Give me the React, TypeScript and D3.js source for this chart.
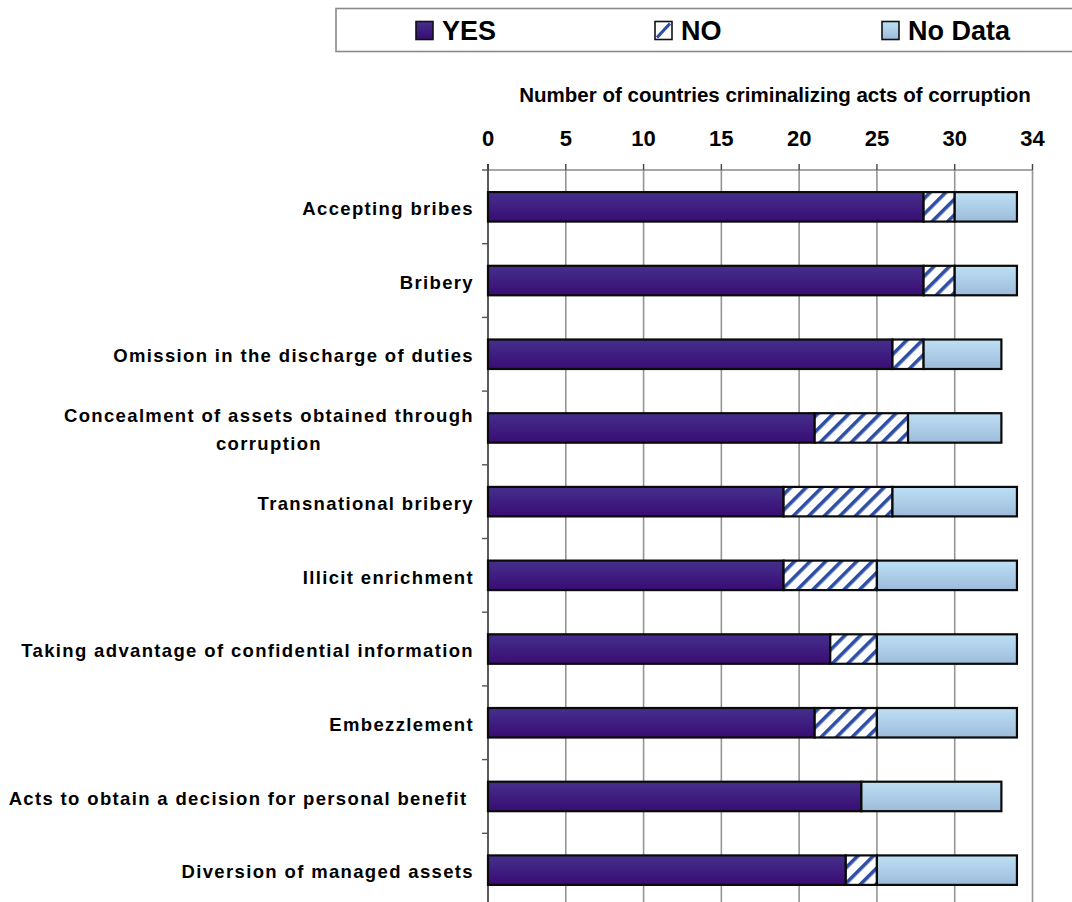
import React, { useEffect, useRef } from "react";
import * as d3 from "d3";

// Acts of corruption, one row each (a "\n" breaks a label onto two lines)
const categories: string[] = [
  "Accepting bribes",
  "Bribery",
  "Omission in the discharge of duties",
  "Concealment of assets obtained through\ncorruption",
  "Transnational bribery",
  "Illicit enrichment",
  "Taking advantage of confidential information",
  "Embezzlement",
  "Acts to obtain a decision for personal benefit ",
  "Diversion of managed assets",
];

// Number of countries per answer
const yesValues: number[] = [28, 28, 26, 21, 19, 19, 22, 21, 24, 23];
const noValues: number[] = [2, 2, 2, 6, 7, 6, 3, 4, 0, 2];
const noDataValues: number[] = [4, 4, 5, 6, 8, 9, 9, 9, 9, 9];

const seriesNames: string[] = ["YES", "NO", "No Data"];

// Axis ticks and the labels printed above them
const tickValues: number[] = [0, 5, 10, 15, 20, 25, 30, 35];
const tickLabels: string[] = ["0", "5", "10", "15", "20", "25", "30", "34"];

const axisTitle = "Number of countries criminalizing acts of corruption";

const FONT = "'Liberation Sans', Arial, Helvetica, sans-serif";

export default function App() {
  const ref = useRef<SVGSVGElement | null>(null);

  useEffect(() => {
    document.body.style.margin = "0";
    const svg = d3.select(ref.current);
    svg.selectAll("*").remove();

    const W = 1072;
    const H = 902;
    const left = 488;
    const right = 1032.5;
    const top = 170;
    const bottom = 907;

    const x = d3.scaleLinear().domain([0, 35]).range([left, right]);
    const y = d3
      .scaleBand<number>()
      .domain(d3.range(categories.length))
      .range([top, bottom])
      .paddingInner(0.6)
      .paddingOuter(0.3);

    svg.attr("width", W).attr("height", H);

    const defs = svg.append("defs");
    const gYes = defs
      .append("linearGradient")
      .attr("id", "gradYes")
      .attr("x1", 0)
      .attr("y1", 0)
      .attr("x2", 0)
      .attr("y2", 1);
    gYes.append("stop").attr("offset", "0%").attr("stop-color", "#45308c");
    gYes.append("stop").attr("offset", "100%").attr("stop-color", "#390c74");

    const gNd = defs
      .append("linearGradient")
      .attr("id", "gradNd")
      .attr("x1", 0)
      .attr("y1", 0)
      .attr("x2", 0)
      .attr("y2", 1);
    gNd.append("stop").attr("offset", "0%").attr("stop-color", "#bde0f5");
    gNd.append("stop").attr("offset", "100%").attr("stop-color", "#9dbbda");

    const hatch = defs
      .append("pattern")
      .attr("id", "hatchNo")
      .attr("patternUnits", "userSpaceOnUse")
      .attr("width", 11)
      .attr("height", 11)
      .attr("patternTransform", "rotate(45)");
    hatch.append("rect").attr("width", 11).attr("height", 11).attr("fill", "#ffffff");
    hatch.append("rect").attr("x", 0).attr("width", 3.6).attr("height", 11).attr("fill", "#2e4ea6");

    svg.append("rect").attr("width", W).attr("height", H).attr("fill", "#ffffff");

    // Legend box
    const legend = svg.append("g");
    legend
      .append("rect")
      .attr("x", 336)
      .attr("y", 8.5)
      .attr("width", 800)
      .attr("height", 43)
      .attr("fill", "#ffffff")
      .attr("stroke", "#8a8a8a")
      .attr("stroke-width", 1.6);
    const legendX = [416, 655, 882];
    const fills = ["url(#gradYes)", "#ffffff", "url(#gradNd)"];
    seriesNames.forEach((name, i) => {
      const gx = legendX[i];
      legend
        .append("rect")
        .attr("x", gx)
        .attr("y", 21.5)
        .attr("width", 17)
        .attr("height", 18)
        .attr("fill", fills[i])
        .attr("stroke", "#111")
        .attr("stroke-width", 1.6);
      if (i === 1) {
        legend
          .append("line")
          .attr("x1", gx + 2)
          .attr("y1", 37.5)
          .attr("x2", gx + 15)
          .attr("y2", 23.5)
          .attr("stroke", "#2e4ea6")
          .attr("stroke-width", 3.2);
      }
      legend
        .append("text")
        .attr("x", gx + 26)
        .attr("y", 40)
        .attr("font-family", FONT)
        .attr("font-weight", "bold")
        .attr("font-size", 27)
        .attr("fill", "#000")
        .text(name);
    });

    // Axis title and tick labels
    svg
      .append("text")
      .attr("x", 775)
      .attr("y", 102)
      .attr("text-anchor", "middle")
      .attr("font-family", FONT)
      .attr("font-weight", "bold")
      .attr("font-size", 20.5)
      .attr("fill", "#000")
      .text(axisTitle);

    svg
      .append("g")
      .selectAll("text")
      .data(tickValues)
      .join("text")
      .attr("x", (d) => x(d))
      .attr("y", 146)
      .attr("text-anchor", "middle")
      .attr("font-family", FONT)
      .attr("font-weight", "bold")
      .attr("font-size", 22)
      .attr("fill", "#000")
      .text((d, i) => tickLabels[i]);

    // Vertical gridlines
    svg
      .append("g")
      .selectAll("line")
      .data(tickValues.slice(1))
      .join("line")
      .attr("x1", (d) => x(d))
      .attr("x2", (d) => x(d))
      .attr("y1", top)
      .attr("y2", bottom)
      .attr("stroke", "#959595")
      .attr("stroke-width", 1.6);

    // Top axis with outward ticks
    svg
      .append("line")
      .attr("x1", left)
      .attr("x2", right)
      .attr("y1", top)
      .attr("y2", top)
      .attr("stroke", "#8a8a8a")
      .attr("stroke-width", 1.6);
    svg
      .append("g")
      .selectAll("line")
      .data(tickValues)
      .join("line")
      .attr("x1", (d) => x(d))
      .attr("x2", (d) => x(d))
      .attr("y1", top - 6)
      .attr("y2", top)
      .attr("stroke", "#444")
      .attr("stroke-width", 1.4);

    // Left axis with ticks at category boundaries
    svg
      .append("line")
      .attr("x1", left)
      .attr("x2", left)
      .attr("y1", top - 6)
      .attr("y2", bottom)
      .attr("stroke", "#333")
      .attr("stroke-width", 1.6);
    const step = y.step();
    svg
      .append("g")
      .selectAll("line")
      .data(d3.range(categories.length + 1))
      .join("line")
      .attr("x1", left - 6)
      .attr("x2", left)
      .attr("y1", (k) => top + k * step)
      .attr("y2", (k) => top + k * step)
      .attr("stroke", "#555")
      .attr("stroke-width", 1.4);

    // Stacked bars
    const rows = categories.map((c, i) => ({
      i,
      parts: [
        { start: 0, value: yesValues[i], fill: "url(#gradYes)" },
        { start: yesValues[i], value: noValues[i], fill: "url(#hatchNo)" },
        { start: yesValues[i] + noValues[i], value: noDataValues[i], fill: "url(#gradNd)" },
      ].filter((p) => p.value > 0),
    }));
    const bars = svg.append("g");
    rows.forEach((r) => {
      bars
        .append("g")
        .selectAll("rect")
        .data(r.parts)
        .join("rect")
        .attr("x", (p) => x(p.start))
        .attr("y", y(r.i)!)
        .attr("width", (p) => x(p.start + p.value) - x(p.start))
        .attr("height", y.bandwidth())
        .attr("fill", (p) => p.fill)
        .attr("stroke", "#0a0a0a")
        .attr("stroke-width", 2.2);
    });

    // Category labels, right-aligned; wrapped lines are centred on the first
    const labels = svg.append("g");
    categories.forEach((c, i) => {
      const lines = c.split("\n");
      const cy = y(i)! + y.bandwidth() / 2 + 1.5;
      const lh = 28;
      const first = labels
        .append("text")
        .attr("x", 474)
        .attr("y", cy - ((lines.length - 1) * lh) / 2)
        .attr("dy", "0.36em")
        .attr("text-anchor", "end")
        .attr("font-family", FONT)
        .attr("font-weight", "bold")
        .attr("font-size", 18.5)
        .attr("letter-spacing", 1.35)
        .style("white-space", "pre")
        .attr("fill", "#000")
        .text(lines[0]);
      if (lines.length > 1) {
        const bb = (first.node() as SVGTextElement).getBBox();
        const mid = bb.x + bb.width / 2;
        lines.slice(1).forEach((ln, j) => {
          labels
            .append("text")
            .attr("x", mid)
            .attr("y", cy - ((lines.length - 1) * lh) / 2 + (j + 1) * lh)
            .attr("dy", "0.36em")
            .attr("text-anchor", "middle")
            .attr("font-family", FONT)
            .attr("font-weight", "bold")
            .attr("font-size", 18.5)
            .attr("letter-spacing", 1.35)
            .attr("fill", "#000")
            .text(ln);
        });
      }
    });
  }, []);

  return <svg ref={ref} style={{ display: "block" }} />;
}
